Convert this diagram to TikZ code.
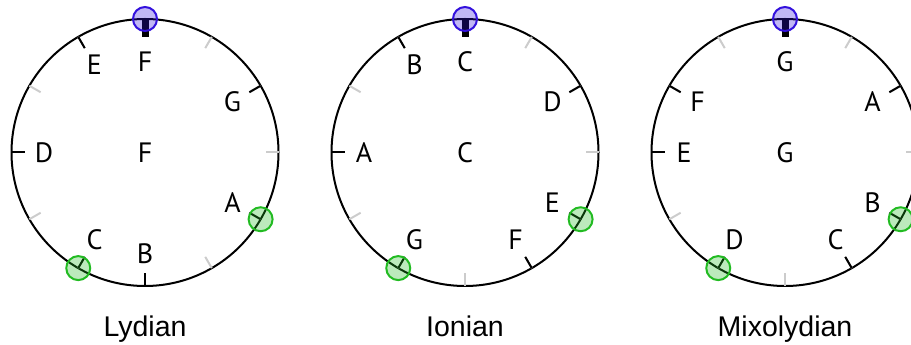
\documentclass[tikz,border=0pt]{standalone}
\usepackage{fontspec}
\newfontfamily\notefont{PT Sans}
\newfontfamily\namefont{Liberation Sans}
\definecolor{rootblue}{HTML}{3311DD}
\definecolor{thirdgreen}{HTML}{22BB22}
\definecolor{offgrey}{HTML}{CCCCCC}

\tikzset{
	wheel/.style={line width=2pt},
	ontick/.style={black, line width=2pt},
	offtick/.style={offgrey, line width=2pt},
	roottick/.style={black, line width=7pt},
	note/.style={font=\notefont\fontsize{28}{28}\selectfont, inner sep=0pt},
	modename/.style={font=\namefont\fontsize{28.5}{28.5}\selectfont, anchor=base, inner sep=0pt},
	rootmark/.style={circle, draw=rootblue, fill=rootblue, fill opacity=0.3, line width=2pt, minimum size=24pt, inner sep=0pt},
	thirdmark/.style={circle, draw=thirdgreen, fill=thirdgreen, fill opacity=0.3, line width=2pt, minimum size=24pt, inner sep=0pt}
}

\begin{document}
\begin{tikzpicture}[x=1pt, y=1pt]
	\useasboundingbox (0,0) rectangle (911,345);
	\clip (0,0) rectangle (911,345);
	% one wheel per mode: name / centre x / key / notes with semitone
	\foreach \mode/\cx/\key/\title/\notes in {
		lyd/145/F/Lydian/{F/0,G/2,A/4,B/6,C/7,D/9,E/11},
		ion/465/C/Ionian/{C/0,D/2,E/4,F/5,G/7,A/9,B/11},
		mix/785/G/Mixolydian/{G/0,A/2,B/4,C/5,D/7,E/9,F/10}}{
		\coordinate (\mode-o) at (\cx,192.5);
		\draw[wheel] (\mode-o) circle[radius=133.5pt];
		\foreach \k in {0,...,11}
			\draw[offtick, shift={(\mode-o)}] (90-30*\k:133.5pt) -- (90-30*\k:120.5pt);
		\foreach \n/\k in \notes {
			\draw[ontick, shift={(\mode-o)}] (90-30*\k:133.5pt) -- (90-30*\k:120.5pt);
			\pgfmathsetmacro\r{\k==0 ? 91 : 101}
			\node[note] (\mode-\n) at ([shift={(90-30*\k:\r pt)}]\mode-o) {\n};
		}
		\draw[roottick, shift={(\mode-o)}] (90:133.5pt) -- (90:115pt);
		\node[rootmark] (\mode-root) at ([shift={(90:133.5pt)}]\mode-o) {};
		\node[thirdmark] (\mode-third) at ([shift={(-30:133.5pt)}]\mode-o) {};
		\node[thirdmark] (\mode-fifth) at ([shift={(-120:133.5pt)}]\mode-o) {};
		\node[note] (\mode-key) at (\mode-o) {\key};
		\node[modename] (\mode-name) at (\cx,8) {\title};
	}
\end{tikzpicture}
\end{document}
